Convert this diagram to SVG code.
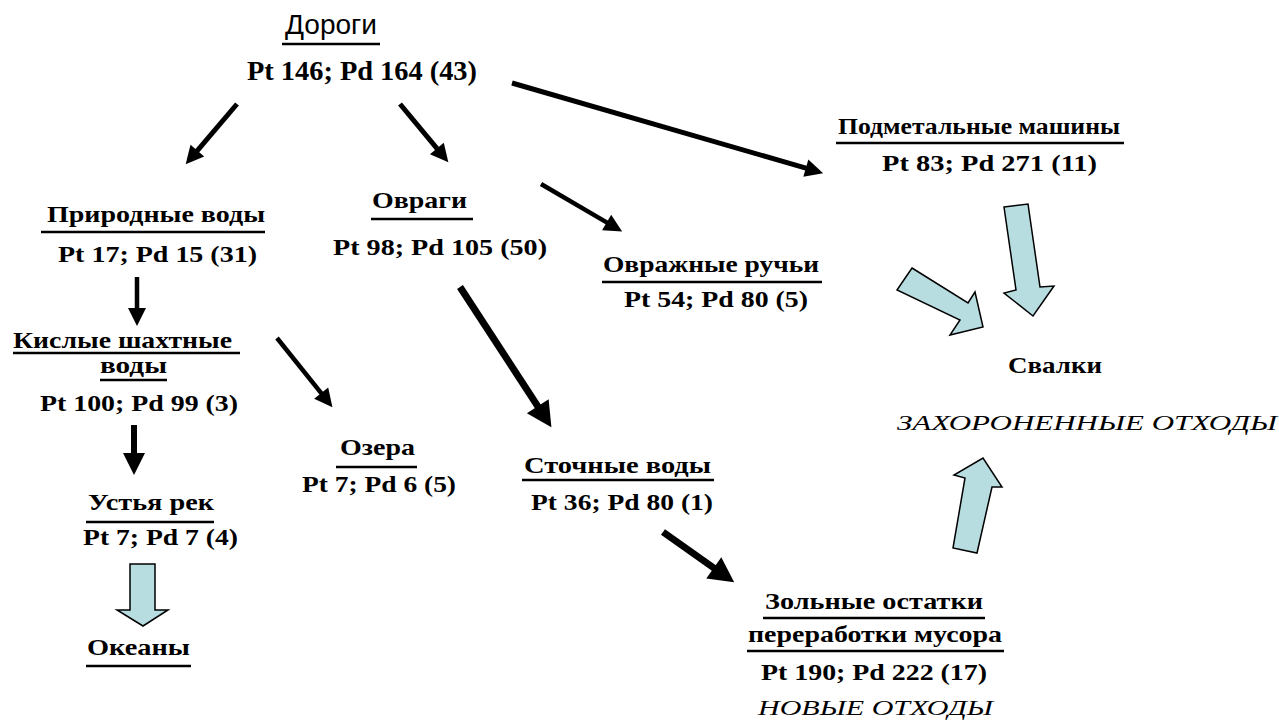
<svg xmlns="http://www.w3.org/2000/svg" width="1279" height="720" viewBox="0 0 1279 720">
<style>
.t{font-weight:bold;font-size:23px;fill:#000}
.top{font-weight:normal;font-size:27px;fill:#000}
.big{font-size:27px}
.it{font-style:italic;font-weight:normal;font-size:21px}
.ul{stroke:#000;stroke-width:2.5}
.ar{stroke:#000;fill:none}
.blk{fill:#b8dde1;stroke:#000;stroke-width:1.5;stroke-linejoin:miter}
</style>
<defs>
<marker id="hs" markerUnits="userSpaceOnUse" orient="auto" refX="1" refY="0" markerWidth="20" markerHeight="20" overflow="visible"><path d="M0,-9 L18,0 L0,9 z" fill="#000"/></marker>
<marker id="hm" markerUnits="userSpaceOnUse" orient="auto" refX="1" refY="0" markerWidth="24" markerHeight="24" overflow="visible"><path d="M0,-11 L22,0 L0,11 z" fill="#000"/></marker>
<marker id="hl" markerUnits="userSpaceOnUse" orient="auto" refX="1" refY="0" markerWidth="28" markerHeight="28" overflow="visible"><path d="M0,-13 L25,0 L0,13 z" fill="#000"/></marker>
</defs>
<rect width="1279" height="720" fill="#fff"/>

<g id="connectors">
<path class="ar" stroke-width="5" d="M237,104 L196.7,151.3" marker-end="url(#hs)"/>
<path class="ar" stroke-width="5" d="M400,104 L437.5,149.2" marker-end="url(#hs)"/>
<path class="ar" stroke-width="5" d="M512,83 L806.8,168.4" marker-end="url(#hs)"/>
<path class="ar" stroke-width="4.5" d="M541,184 L607.5,222.9" marker-end="url(#hs)"/>
<path class="ar" stroke-width="4.5" d="M137,277 L137,309" marker-end="url(#hs)"/>
<path class="ar" stroke-width="6" d="M134,425 L134,454" marker-end="url(#hm)"/>
<path class="ar" stroke-width="4.5" d="M277,338 L321.8,393.9" marker-end="url(#hs)"/>
<path class="ar" stroke-width="7" d="M460,287 L538.3,407.1" marker-end="url(#hl)"/>
<path class="ar" stroke-width="7" d="M663,532 L714.6,568.5" marker-end="url(#hl)"/>
<polygon class="blk" points="130,564 155,564 155,610 168,610 143,626 117,610 130,610"/>
<polygon class="blk" points="1004,207 1028,204 1040,287 1054,286 1033,316 1004,293 1016,290"/>
<polygon class="blk" points="912,268 968,303 975,292 983,327 950,335 960,320 897,290"/>
<polygon class="blk" points="953,548 965,478 954,475 983,458 1002,487 992,487 977,553"/>
</g>

<g font-family="Liberation Sans, Arial, sans-serif">
<g id="dorogi">
<text class="top" x="285" y="34" textLength="92" lengthAdjust="spacingAndGlyphs">Дороги</text>
<line class="ul" x1="282" y1="44" x2="380" y2="44"/>
</g>
</g>

<g font-family="Liberation Serif, Times New Roman, Times, DejaVu Serif, Noto Serif, serif">
<g id="dorogi-num">
<text class="t big" x="247" y="80" textLength="230" lengthAdjust="spacingAndGlyphs">Pt 146; Pd 164 (43)</text>
</g>

<g id="prirodnye">
<text class="t" x="47" y="222" textLength="218" lengthAdjust="spacingAndGlyphs">Природные воды</text>
<line class="ul" x1="41" y1="232" x2="265" y2="232"/>
<text class="t" x="58" y="262" textLength="199" lengthAdjust="spacingAndGlyphs">Pt 17; Pd 15 (31)</text>
</g>

<g id="kislye">
<text class="t" x="13" y="348" textLength="219" lengthAdjust="spacingAndGlyphs">Кислые шахтные</text>
<line class="ul" x1="13" y1="353" x2="240" y2="353"/>
<text class="t" x="100" y="373" textLength="67" lengthAdjust="spacingAndGlyphs">воды</text>
<line class="ul" x1="100" y1="380" x2="167" y2="380"/>
<text class="t" x="40" y="411" textLength="198" lengthAdjust="spacingAndGlyphs">Pt 100; Pd 99 (3)</text>
</g>

<g id="ustya">
<text class="t" x="88" y="510" textLength="126" lengthAdjust="spacingAndGlyphs">Устья рек</text>
<line class="ul" x1="86" y1="522" x2="214" y2="522"/>
<text class="t" x="83" y="545" textLength="155" lengthAdjust="spacingAndGlyphs">Pt 7; Pd 7 (4)</text>
</g>

<g id="okeany">
<text class="t" x="87" y="655" textLength="103" lengthAdjust="spacingAndGlyphs">Океаны</text>
<line class="ul" x1="86" y1="666" x2="191" y2="666"/>
</g>

<g id="ozera">
<text class="t" x="340" y="455" textLength="75" lengthAdjust="spacingAndGlyphs">Озера</text>
<line class="ul" x1="336" y1="467" x2="417" y2="467"/>
<text class="t" x="302" y="492" textLength="154" lengthAdjust="spacingAndGlyphs">Pt 7; Pd 6 (5)</text>
</g>

<g id="ovragi">
<text class="t" x="372" y="208" textLength="95" lengthAdjust="spacingAndGlyphs">Овраги</text>
<line class="ul" x1="371" y1="219" x2="473" y2="219"/>
<text class="t" x="333" y="255" textLength="214" lengthAdjust="spacingAndGlyphs">Pt 98; Pd 105 (50)</text>
</g>

<g id="ovrazhnye">
<text class="t" x="603" y="272" textLength="216" lengthAdjust="spacingAndGlyphs">Овражные ручьи</text>
<line class="ul" x1="602" y1="282" x2="822" y2="282"/>
<text class="t" x="624" y="307" textLength="184" lengthAdjust="spacingAndGlyphs">Pt 54; Pd 80 (5)</text>
</g>

<g id="podmetalnye">
<text class="t" x="838" y="134" textLength="282" lengthAdjust="spacingAndGlyphs">Подметальные машины</text>
<line class="ul" x1="836" y1="143" x2="1124" y2="143"/>
<text class="t" x="882" y="171" textLength="215" lengthAdjust="spacingAndGlyphs">Pt 83; Pd 271 (11)</text>
</g>

<g id="svalki">
<text class="t" x="1008" y="373" textLength="94" lengthAdjust="spacingAndGlyphs">Свалки</text>
<text class="t it" x="897" y="430" textLength="380" lengthAdjust="spacingAndGlyphs">ЗАХОРОНЕННЫЕ ОТХОДЫ</text>
</g>

<g id="stochnye">
<text class="t" x="524" y="473" textLength="187" lengthAdjust="spacingAndGlyphs">Сточные воды</text>
<line class="ul" x1="522" y1="480" x2="714" y2="480"/>
<text class="t" x="531" y="510" textLength="182" lengthAdjust="spacingAndGlyphs">Pt 36; Pd 80 (1)</text>
</g>

<g id="zolnye">
<text class="t" x="765" y="609" textLength="218" lengthAdjust="spacingAndGlyphs">Зольные остатки</text>
<line class="ul" x1="763" y1="618" x2="985" y2="618"/>
<text class="t" x="748" y="642" textLength="254" lengthAdjust="spacingAndGlyphs">переработки мусора</text>
<line class="ul" x1="747" y1="651" x2="1004" y2="651"/>
<text class="t" x="761" y="680" textLength="226" lengthAdjust="spacingAndGlyphs">Pt 190; Pd 222 (17)</text>
<text class="t it" x="758" y="715" textLength="235" lengthAdjust="spacingAndGlyphs">НОВЫЕ ОТХОДЫ</text>
</g>
</g>
</svg>
